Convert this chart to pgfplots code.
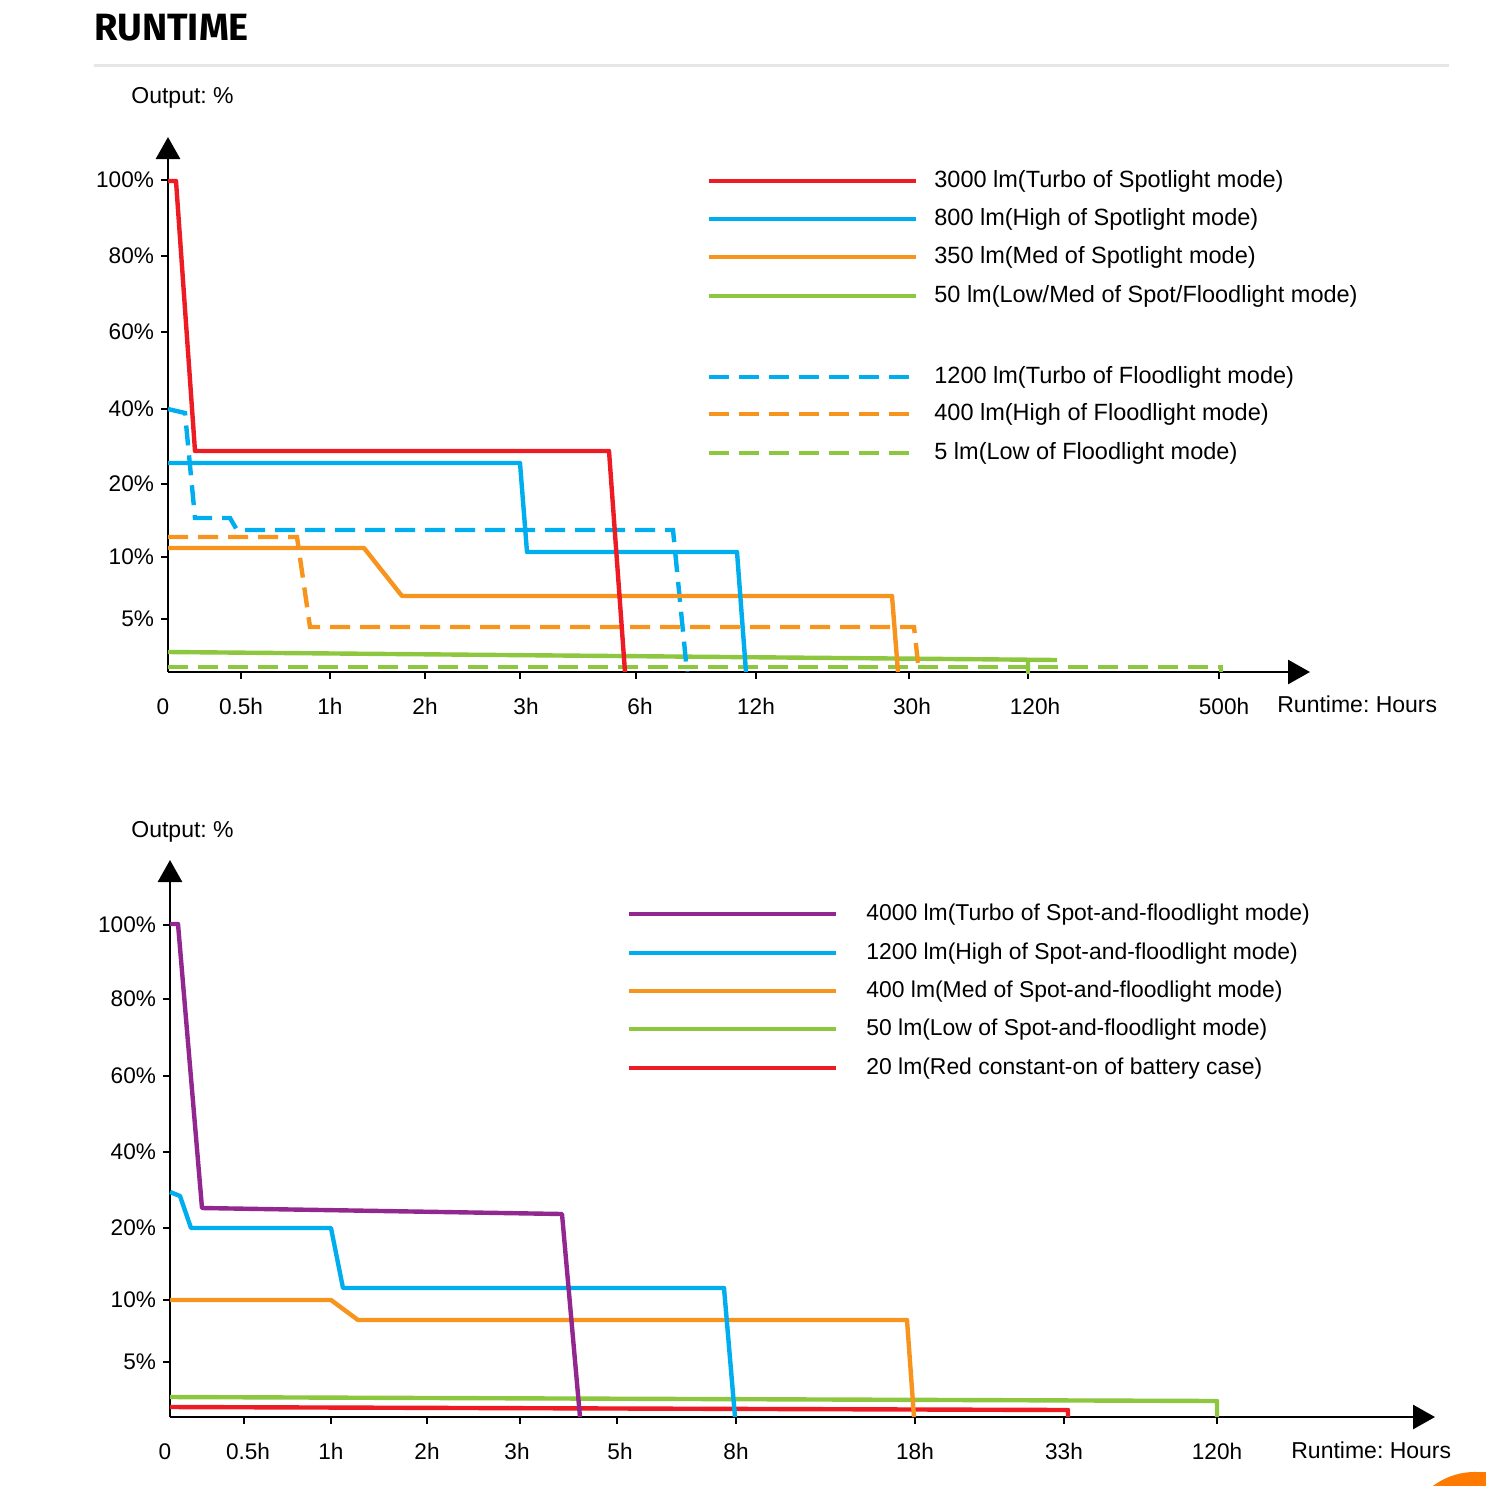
\documentclass[border=0pt]{standalone}
\usepackage{pgfplots}
\pgfplotsset{compat=1.18}
\usetikzlibrary{arrows.meta}
\usepackage{fontspec}
\setmainfont{Liberation Sans}
\newfontfamily\titlefont{Fira Sans}
\frenchspacing

\definecolor{cRed}{HTML}{ED1C24}
\definecolor{cBlue}{HTML}{00AEEF}
\definecolor{cOrange}{HTML}{F7941D}
\definecolor{cGreen}{HTML}{8DC63F}
\definecolor{cPurple}{HTML}{92278F}
\definecolor{ruleGray}{HTML}{E6E6E6}
\definecolor{chatOrange}{HTML}{FF7A00}

% nudge a tick label sideways by #1
\newcommand{\nudge}[2]{\ifdim#1>0pt\hspace*{#1}#2\else#2\hspace*{-#1}\fi}

\tikzset{
  run/.style={line width=2.2bp, line join=round},
  rundash/.style={line width=2.2bp, dash pattern=on 10bp off 5bp},
  key/.style={anchor=base west, inner sep=0, font=\fontsize{11.75bp}{14bp}\selectfont},
  keyb/.style={anchor=base west, inner sep=0, font=\fontsize{11.45bp}{14bp}\selectfont},
}

% Runtime axes: x and y are positions along the (non-linear) printed scales,
% measured from the origin of each chart.
\pgfplotsset{
  rt/.style={
    scale only axis, axis lines=left, enlargelimits=false, clip=false,
    xmin=0, ymin=0, anchor=south west,
    axis line style={line width=1.4bp, -{Triangle[length=11bp,width=12bp]}},
    tick align=outside, major tick length=3.5bp,
    every tick/.style={black, line width=1.2bp},
    tick label style={font=\fontsize{11.3bp}{13bp}\selectfont},
    xticklabel style={anchor=base, yshift=-17.5bp},
    yticklabel style={anchor=east},
    extra x ticks={0}, extra x tick labels={0},
    extra x tick style={major tick length=0pt, xticklabel style={xshift=-2.5bp, yshift=-3.5bp}},
  },
}

\begin{document}
\begin{tikzpicture}[font=\fontsize{11.5bp}{13bp}\selectfont]
\useasboundingbox (0,0) rectangle (743bp,-743bp);

\begin{scope}[x=0.5bp,y=-0.5bp]
  \node[anchor=base west, inner sep=0, font=\titlefont\bfseries\fontsize{19bp}{21bp}\selectfont] at (94,40) {RUNTIME};
  \draw[line width=1.5bp, ruleGray] (94,66) -- (1449,66);

  % axis captions
  \node[anchor=base west, inner sep=0] at (131,104) {Output: \%};
  \node[anchor=base west, inner sep=0] at (1277,713) {Runtime: Hours};
  \node[anchor=base west, inner sep=0] at (131,838) {Output: \%};
  \node[anchor=base west, inner sep=0] at (1291,1459) {Runtime: Hours};

  % key, upper chart
  \draw[run, cRed]    (709,181) -- (916,181);
  \draw[run, cBlue]   (709,219) -- (916,219);
  \draw[run, cOrange] (709,257) -- (916,257);
  \draw[run, cGreen]  (709,296) -- (916,296);
  \draw[rundash, cBlue]   (709,377) -- (916,377);
  \draw[rundash, cOrange] (709,414) -- (916,414);
  \draw[rundash, cGreen]  (709,453) -- (916,453);
  \node[key] at (934,188) {3000 lm(Turbo of Spotlight mode)};
  \node[key] at (934,226) {800 lm(High of Spotlight mode)};
  \node[key] at (934,264) {350 lm(Med of Spotlight mode)};
  \node[key] at (934,303) {50 lm(Low/Med of Spot/Floodlight mode)};
  \node[key] at (934,384) {1200 lm(Turbo of Floodlight mode)};
  \node[key] at (934,421) {400 lm(High of Floodlight mode)};
  \node[key] at (934,460) {5 lm(Low of Floodlight mode)};

  % key, lower chart
  \draw[run, cPurple] (629,914) -- (836,914);
  \draw[run, cBlue]   (629,953) -- (836,953);
  \draw[run, cOrange] (629,991) -- (836,991);
  \draw[run, cGreen]  (629,1029) -- (836,1029);
  \draw[run, cRed]    (629,1068) -- (836,1068);
  \node[keyb] at (866,921) {4000 lm(Turbo of Spot-and-floodlight mode)};
  \node[keyb] at (866,960) {1200 lm(High of Spot-and-floodlight mode)};
  \node[keyb] at (866,998) {400 lm(Med of Spot-and-floodlight mode)};
  \node[keyb] at (866,1036) {50 lm(Low of Spot-and-floodlight mode)};
  \node[keyb] at (866,1075) {20 lm(Red constant-on of battery case)};

  % corner button
  \fill[chatOrange] (1475,1542) circle (70);
  \fill[chatOrange] (1475,1472) rectangle (1600,1600);
\end{scope}

% Upper chart: spotlight and floodlight modes
\begin{axis}[rt, at={(84bp,-336bp)}, xmax=1142, ymax=535, width=571bp, height=267.5bp,
  xtick={73,162,257,352,468,588,741,860,1051},
  xticklabels={0.5h,1h,2h,\nudge{6bp}{3h},\nudge{4bp}{6h},12h,\nudge{3bp}{30h},\nudge{7bp}{120h},\nudge{5bp}{500h}},
  ytick={53,115,188,263,340,416,492},
  yticklabels={5\%,10\%,20\%,40\%,60\%,80\%,100\%}]
\addplot[run, cGreen] coordinates {(0,20) (860,12.3) (860,0) (860,12.3) (889,12)};
\addplot[rundash, cGreen] coordinates {(0,5) (1053,5) (1053,0)};
\addplot[rundash, cOrange] coordinates {(0,135) (129,135) (142,45) (746,45) (751,0)};
\addplot[rundash, cBlue] coordinates {(0,263) (17,259) (27,154) (62,154) (69,142) (505,142) (519,0)};
\addplot[run, cOrange] coordinates {(0,124) (196,124) (234,76) (724,76) (730,0)};
\addplot[run, cBlue] coordinates {(0,209) (352,209) (359,120) (569,120) (578,0)};
\addplot[run, cRed] coordinates {(0,491) (8,491) (27,221) (441,221) (457,0)};
\end{axis}

% Lower chart: spot-and-floodlight modes and battery case
\begin{axis}[rt, at={(85bp,-708.5bp)}, xmax=1265, ymax=557, width=632.5bp, height=278.5bp,
  xtick={74,161,257,350,447,566,745,894,1047},
  xticklabels={\nudge{4bp}{0.5h},1h,2h,\nudge{-3bp}{3h},\nudge{3bp}{5h},8h,18h,33h,120h},
  ytick={55,117,189,265,341,418,492},
  yticklabels={5\%,10\%,20\%,40\%,60\%,80\%,100\%}]
\addplot[run, cRed] coordinates {(0,10) (898,7) (898,0)};
\addplot[run, cGreen] coordinates {(0,20) (1047,16) (1047,0)};
\addplot[run, cOrange] coordinates {(0,117) (161,117) (188,97) (737,97) (744,0)};
\addplot[run, cBlue] coordinates {(0,225) (10,221) (21,189) (161,189) (173,129) (554,129) (565,0)};
\addplot[run, cPurple] coordinates {(0,493) (8,493) (32,209) (392,203) (410,0)};
\end{axis}
\end{tikzpicture}
\end{document}
